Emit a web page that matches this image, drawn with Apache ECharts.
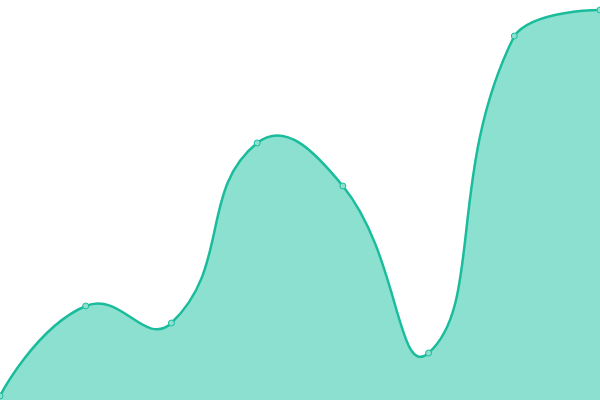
<!DOCTYPE html>
<html>
<head>
    <meta charset="UTF-8">
    <title>area</title>
    <script src="https://cdn.jsdelivr.net/npm/echarts@6/dist/echarts.min.js"></script>
    <style>
        html, body { margin: 0; padding: 0; background: #fff; }
        #main { width: 600px; height: 400px; }
    </style>
</head>
<body>
<div id="main"></div>
<script type="text/javascript">
    // categories (x) and values
    var categories = ['1', '2', '3', '4', '5', '6', '7', '8'];
    var values = [4, 94, 77, 257, 214, 47, 364, 390];

    var lineColor = '#1abc9c';
    var areaColor = '#8be0d0';
    var smooth = 0.5;

    // old style (v4) smoothing: handles split by segment length, clamped to the points' box
    function renderCurve(params, api) {
        if (params.dataIndex !== 0) return;
        var pts = [];
        for (var i = 0; i < values.length; i++) {
            pts.push(api.coord([i, values[i]]));
        }
        var n = pts.length;
        var minX = Infinity, minY = Infinity, maxX = -Infinity, maxY = -Infinity;
        pts.forEach(function (p) {
            minX = Math.min(minX, p[0]); maxX = Math.max(maxX, p[0]);
            minY = Math.min(minY, p[1]); maxY = Math.max(maxY, p[1]);
        });
        function clamp(p) {
            return [Math.min(Math.max(p[0], minX), maxX), Math.min(Math.max(p[1], minY), maxY)];
        }
        var cpIn = [], cpOut = [];
        for (var i = 0; i < n; i++) {
            var p = pts[i];
            if (i === 0 || i === n - 1) {
                cpIn.push(p); cpOut.push(p);
                continue;
            }
            var prev = pts[i - 1], next = pts[i + 1];
            var vx = (next[0] - prev[0]) * smooth;
            var vy = (next[1] - prev[1]) * smooth;
            var lp = Math.hypot(p[0] - prev[0], p[1] - prev[1]);
            var ln = Math.hypot(p[0] - next[0], p[1] - next[1]);
            var sum = lp + ln;
            if (sum) { lp /= sum; ln /= sum; }
            cpIn.push(clamp([p[0] - vx * lp, p[1] - vy * lp]));
            cpOut.push(clamp([p[0] + vx * ln, p[1] + vy * ln]));
        }
        var d = 'M' + pts[0][0] + ',' + pts[0][1];
        for (var i = 0; i < n - 1; i++) {
            var a = cpOut[i], b = cpIn[i + 1], e = pts[i + 1];
            d += ' C' + a[0] + ',' + a[1] + ' ' + b[0] + ',' + b[1] + ' ' + e[0] + ',' + e[1];
        }
        var base0 = api.coord([0, 0]);
        var base1 = api.coord([n - 1, 0]);
        var area = d + ' L' + base1[0] + ',' + base1[1] + ' L' + base0[0] + ',' + base0[1] + ' Z';
        return {
            type: 'group',
            children: [
                { type: 'path', shape: { pathData: area }, style: { fill: areaColor } },
                { type: 'path', shape: { pathData: d }, style: { fill: null, stroke: lineColor, lineWidth: 2.5 } }
            ]
        };
    }

    var chart = echarts.init(document.getElementById('main'));
    var option = {
        animation: false,
        grid: { left: 0, right: 0, top: 0, bottom: 0 },
        xAxis: {
            type: 'category',
            boundaryGap: false,
            data: categories,
            show: false
        },
        yAxis: {
            type: 'value',
            min: 0,
            max: 400,
            show: false
        },
        series: [
            {
                type: 'custom',
                renderItem: renderCurve,
                data: values.map(function (v, i) { return [i, v]; }),
                silent: true
            },
            {
                type: 'line',
                data: values,
                symbol: 'circle',
                symbolSize: 6,
                lineStyle: { width: 0 },
                itemStyle: { color: areaColor, borderColor: lineColor, borderWidth: 1 }
            }
        ]
    };
    chart.setOption(option);
</script>
</body>
</html>
